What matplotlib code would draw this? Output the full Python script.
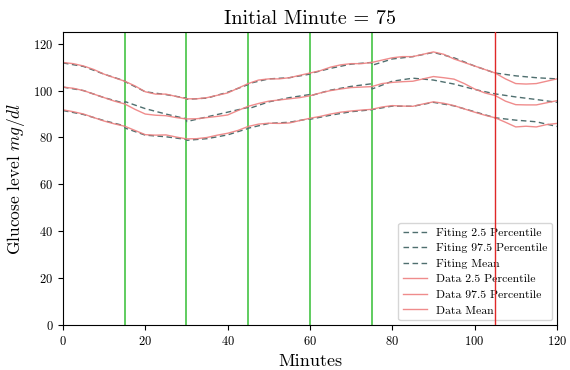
import numpy as np
import matplotlib
matplotlib.use("Agg")
import matplotlib.pyplot as plt

# ── Style ─────────────────────────────────────────────────────────────────────
plt.rcParams['font.family'] = 'serif'
plt.rcParams['font.serif'] = ['cmr10']
plt.rcParams['mathtext.fontset'] = 'cm'
plt.rcParams['axes.formatter.use_mathtext'] = True
plt.rcParams['axes.unicode_minus'] = False

# ── Data ──────────────────────────────────────────────────────────────────────
initial_minute = 75
window_starts = [15, 30, 45, 60, 75]
pred_minute = 105

t_data = np.arange(0, 120.1, 2.5)
data_p975 = [112, 111.5, 110.5, 109, 107, 105.5, 104, 102, 99.5, 98.5, 98.5, 97.5,
             96.5, 96.5, 97, 98, 99, 101, 103, 104.5, 105, 105, 105.5, 106.5,
             107.5, 108.5, 110, 111, 111.5, 111.5, 112, 113, 114, 114.5, 114.5, 115.5,
             116.5, 115.5, 113.5, 112, 110.5, 109, 107.5, 105, 103, 102.8, 103, 104, 105]
data_mean = [101.5, 101, 100, 98.5, 97, 95.5, 94.3, 92, 90, 89.5, 89.3, 88.5,
             87.9, 88, 88.5, 89, 89.6, 91.5, 93.3, 94.5, 95.5, 96, 96.5, 97,
             97.8, 99, 100, 100.7, 101.3, 101.5, 101.7, 103, 103.5, 103.8, 104, 105,
             106, 105.5, 104.9, 103, 100.7, 99, 97.9, 95.5, 94, 93.9, 93.9, 94.8, 95.7]
data_p025 = [91.8, 91, 90, 88.5, 87, 85.8, 84.8, 83, 81.2, 81, 81.1, 80.2,
             79.4, 79.5, 80, 81, 81.8, 83, 84.7, 85.7, 86.1, 86, 86.2, 87.2,
             88.2, 89, 90, 90.8, 91.3, 91.7, 92, 93, 93.6, 93.4, 93.3, 94.3,
             95.2, 94.6, 93.6, 92.2, 90.8, 89.5, 88.4, 86.5, 84.5, 84.8, 84.5, 85.5, 86]

t_fit = [0, 5, 10, 14.9, 15.1, 20, 25, 29.9, 30.1, 35, 40, 44.9, 45.1, 50, 55,
         59.9, 60.1, 65, 70, 74.9, 75.1, 80, 85, 90, 95, 100, 105, 110, 115, 120]
fit_p975 = [111.8, 110.3, 107, 104.2, 103.8, 99.5, 98.3, 96.8, 96.3, 96.8, 99.3,
            102.5, 103, 105, 105.5, 107, 107.3, 109.5, 111.3, 112, 110.8, 113.5,
            114.5, 116.3, 114, 110.5, 107.5, 106.3, 105.5, 105]
fit_mean = [101.5, 100, 97, 94.6, 95.3, 92.3, 90, 88, 86.8, 88.8, 90.8,
            92.8, 92.3, 95.2, 97, 98.3, 97.8, 100.2, 101.8, 102.9, 100.7, 104,
            105.3, 104.5, 102.8, 100.5, 98.6, 97.3, 96.2, 95]
fit_p025 = [91.5, 89.8, 87.2, 85, 84, 81, 80.3, 79.2, 78.8, 79.5, 81.1,
            83.8, 84, 86, 86.5, 88, 87.8, 89.5, 91, 91.8, 91.9, 93.4,
            93.3, 95, 93.5, 91, 88.4, 87.4, 86.7, 84.7]

# ── Plot ──────────────────────────────────────────────────────────────────────
fig = plt.figure(figsize=(5.7, 3.7), dpi=100)
ax = fig.add_axes([0.1105, 0.1216, 0.8665, 0.7919])

fit_kw = dict(color='#4f6f6f', linestyle='--', linewidth=1.0, dashes=(4, 2.5))
data_kw = dict(color='#ee8080', linewidth=1.0, alpha=0.9)

ax.plot(t_fit, fit_p025, label='Fiting 2.5 Percentile', **fit_kw)
ax.plot(t_fit, fit_p975, label='Fiting 97.5 Percentile', **fit_kw)
ax.plot(t_fit, fit_mean, label='Fiting Mean', **fit_kw)
ax.plot(t_data, data_p025, label='Data 2.5 Percentile', **data_kw)
ax.plot(t_data, data_p975, label='Data 97.5 Percentile', **data_kw)
ax.plot(t_data, data_mean, label='Data Mean', **data_kw)

for m in window_starts:
    ax.axvline(m, color='#44c444', linewidth=1.2, zorder=1)
ax.axvline(pred_minute, color='#e02828', linewidth=1.0, zorder=6)

ax.set_xlim(0, 120)
ax.set_ylim(0, 125)
ax.set_xticks(np.arange(0, 121, 20))
ax.set_yticks(np.arange(0, 121, 20))
ax.tick_params(labelsize=9)

ax.set_title(f'Initial Minute = {initial_minute}', fontsize=14.5)
ax.set_xlabel('Minutes', fontsize=13)
ax.set_ylabel('Glucose level $mg/dl$', fontsize=12.5)

ax.legend(loc='lower right', fontsize=8.5, framealpha=0.8, edgecolor='#cccccc',
          handlelength=2.0, labelspacing=0.45, borderaxespad=0.4)

fig.savefig('out.png', dpi=100)
